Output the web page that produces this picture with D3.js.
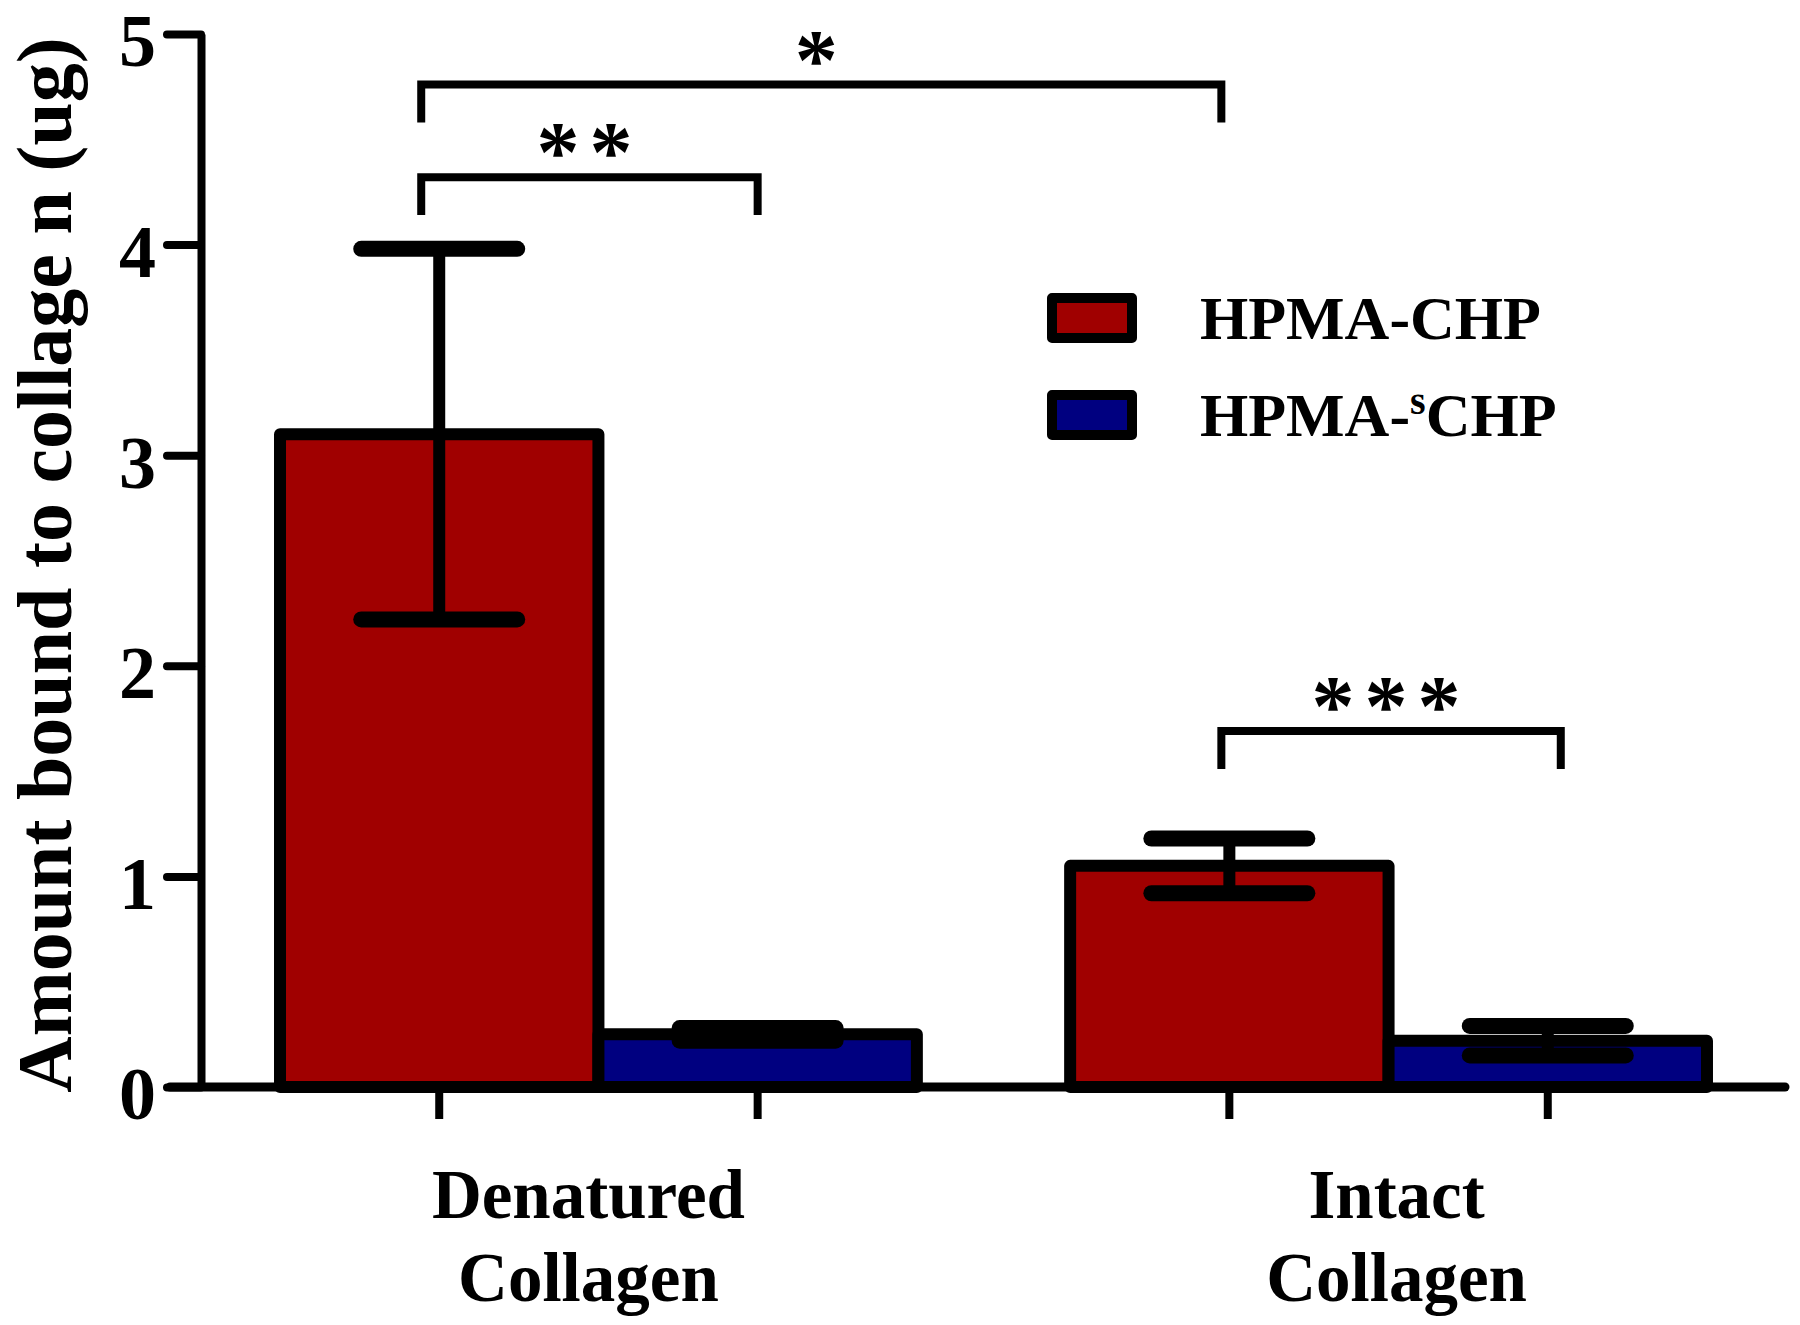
<!DOCTYPE html>
<html><head><meta charset="utf-8">
<script src="https://cdn.jsdelivr.net/npm/d3@7"></script>
<style>body{margin:0;background:#fff}text{font-family:"Liberation Serif","Times New Roman",serif;font-weight:bold;fill:#000}</style>
</head><body>
<svg id="c" width="1800" height="1325"></svg>
<script>
// ---- data ----
const categories = ["Denatured Collagen", "Intact Collagen"];
const categoryLines = [["Denatured", "Collagen"], ["Intact", "Collagen"]];
const seriesKeys = ["chp", "schp"];
const seriesColors = ["#a00000", "#000080"];
const chpMeans = [3.10, 1.05];
const chpErrors = [0.88, 0.13];
const schpMeans = [0.25, 0.22];
const schpErrors = [0.03, 0.07];
const yTicks = [0, 1, 2, 3, 4, 5];
const yTitle = "Amount bound to collage n (ug)";
// comparisons: [category, series] endpoints, bracket height & leg bottom (data units)
const compFrom = [[0, 0], [0, 0], [1, 0]];
const compTo = [[1, 0], [0, 1], [1, 1]];
const compLineY = [4.76, 4.32, 1.69];
const compLegY = [4.58, 4.14, 1.51];
const compLabels = ["*", "**", "***"];

// ---- layout ----
const svg = d3.select("#c");
const x0 = d3.scaleBand().domain(categories).range([201, 1786]).paddingInner(0.194).paddingOuter(0.1);
const x1 = d3.scaleBand().domain(seriesKeys).range([0, x0.bandwidth()]).padding(0);
const y = d3.scaleLinear().domain([0, 5]).range([1087, 34]);

const rows = categories.map((c, i) => ({
  cat: c,
  vals: [
    {key: "chp", mean: chpMeans[i], err: chpErrors[i]},
    {key: "schp", mean: schpMeans[i], err: schpErrors[i]}
  ]
}));
const cx = (ci, si) => x0(categories[ci]) + x1(seriesKeys[si]) + x1.bandwidth() / 2;

// bars
const g = svg.append("g");
rows.forEach((r, ci) => {
  r.vals.forEach((v, si) => {
    g.append("rect")
      .attr("x", x0(r.cat) + x1(v.key))
      .attr("y", y(v.mean))
      .attr("width", x1.bandwidth())
      .attr("height", y(0) - y(v.mean))
      .attr("fill", seriesColors[si])
      .attr("stroke", "#000")
      .attr("stroke-width", 12)
      .attr("stroke-linejoin", "round");
  });
});
// error bars
rows.forEach((r, ci) => {
  r.vals.forEach((v, si) => {
    const c = cx(ci, si);
    const hi = y(v.mean + v.err), lo = y(v.mean - v.err);
    g.append("line").attr("x1", c).attr("x2", c).attr("y1", hi).attr("y2", lo)
      .attr("stroke", "#000").attr("stroke-width", 12);
    [hi, lo].forEach(yy => {
      g.append("line").attr("x1", c - 78).attr("x2", c + 78).attr("y1", yy).attr("y2", yy)
        .attr("stroke", "#000").attr("stroke-width", 16).attr("stroke-linecap", "round");
    });
  });
});

// y axis
const yAxis = svg.append("g").attr("transform", "translate(201,0)")
  .call(d3.axisLeft(y).tickValues(yTicks).tickFormat(d3.format("d")).tickSize(34).tickSizeOuter(0).tickPadding(11));
yAxis.select(".domain").attr("stroke", "#000").attr("stroke-width", 8);
yAxis.selectAll(".tick line").attr("stroke", "#000").attr("stroke-width", 8).attr("stroke-linecap", "round");
yAxis.selectAll(".tick text").attr("font-size", 74).attr("font-family", "Liberation Serif").attr("font-weight", "bold").attr("fill", "#000").attr("dy", "0.43em");

// x axis line
svg.append("line").attr("x1", 170).attr("x2", 1785).attr("y1", y(0)).attr("y2", y(0))
  .attr("stroke", "#000").attr("stroke-width", 9).attr("stroke-linecap", "round");
// x ticks at each bar
rows.forEach((r, ci) => r.vals.forEach((v, si) => {
  const c = cx(ci, si);
  svg.append("line").attr("x1", c).attr("x2", c).attr("y1", y(0)).attr("y2", y(0) + 32)
    .attr("stroke", "#000").attr("stroke-width", 8);
}));
// category labels
const labelNudge = [-10, 8];
categories.forEach((c, i) => {
  const lx = x0(c) + x0.bandwidth() / 2 + labelNudge[i];
  const t = svg.append("text").attr("text-anchor", "middle").attr("font-size", 69)
    .attr("x", lx).attr("y", 1218);
  categoryLines[i].forEach((ln, k) => t.append("tspan").attr("x", lx).attr("dy", k ? 83 : 0).text(ln));
});

// y title
svg.append("text").attr("transform", "translate(71,565) rotate(-90)").attr("text-anchor", "middle")
  .attr("font-size", 78).text(yTitle);

// significance brackets
const fromNudge = [-18, -18, -8], toNudge = [-8, 0, 13];
compLabels.forEach((lab, i) => {
  const xa = cx(compFrom[i][0], compFrom[i][1]) + fromNudge[i];
  const xb = cx(compTo[i][0], compTo[i][1]) + toNudge[i];
  const ly = y(compLineY[i]), legY = y(compLegY[i]);
  svg.append("path").attr("d", `M${xa},${legY}V${ly}H${xb}V${legY}`)
    .attr("fill", "none").attr("stroke", "#000").attr("stroke-width", 8);
  svg.append("text").attr("x", (xa + xb) / 2).attr("y", ly + 4).attr("text-anchor", "middle")
    .attr("font-size", 86).attr("font-weight", "normal").attr("letter-spacing", 10).text(lab);
});

// legend
const legendY = [298, 395];
seriesKeys.forEach((k, i) => {
  svg.append("rect").attr("x", 1052).attr("y", legendY[i]).attr("width", 80).attr("height", 40)
    .attr("fill", seriesColors[i]).attr("stroke", "#000").attr("stroke-width", 10).attr("stroke-linejoin", "round");
});
svg.append("text").attr("x", 1200).attr("y", 339).attr("font-size", 62).text("HPMA-CHP");
const l2 = svg.append("text").attr("x", 1200).attr("y", 436).attr("font-size", 62);
l2.append("tspan").text("HPMA-");
l2.append("tspan").attr("font-size", 40).attr("dy", -22).text("s");
l2.append("tspan").attr("dy", 22).text("CHP");
</script>
</body></html>
